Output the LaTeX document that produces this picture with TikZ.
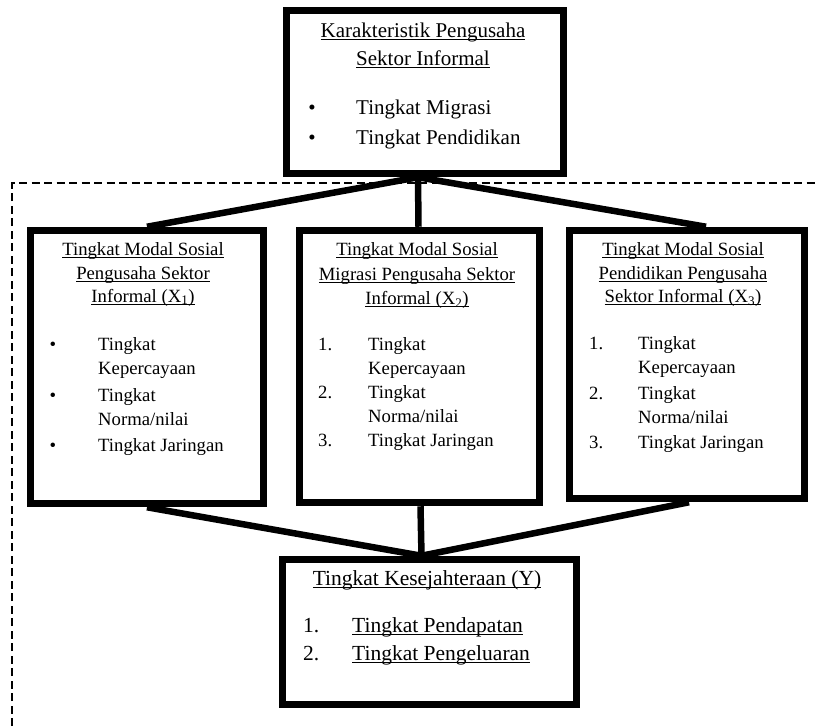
\documentclass[tikz,border=0pt]{standalone}
\usepackage{fontspec}
\setmainfont{Liberation Serif}
\usetikzlibrary{backgrounds}
\newcommand\ulx[1]{\setbox0\hbox{#1}\rlap{\rule[-0.13em]{\wd0}{0.055em}}\box0}
\begin{document}
\begin{tikzpicture}[x=1pt,y=-1pt,
  box/.style={draw, line width=7.5pt, fill=white, inner sep=0pt},
  conn/.style={line width=6.5pt},
  frame/.style={line width=2pt, dash pattern=on 8pt off 4.5pt},
  ta/.style={font=\fontsize{21}{25}\selectfont, inner sep=0pt},
  tb/.style={font=\fontsize{18.7}{23}\selectfont, inner sep=0pt},
  tc/.style={font=\fontsize{21.5}{25}\selectfont, inner sep=0pt}]
\useasboundingbox (0,0) rectangle (817,726);

% boxes
\node[box, minimum width=277pt, minimum height=163pt] (top) at (425,92) {};
\node[box, minimum width=233pt, minimum height=273pt] (x1) at (147,367) {};
\node[box, minimum width=240pt, minimum height=272pt] (x2) at (419.5,366.5) {};
\node[box, minimum width=235pt, minimum height=268pt] (x3) at (687,364.5) {};
\node[box, minimum width=294pt, minimum height=145pt] (y) at (429.5,632) {};

% dashed frame and connectors behind boxes
\coordinate (fa) at (12,726);
\coordinate (fb) at (12,183);
\coordinate (fc) at (817,183);
\begin{pgfonlayer}{background}
\draw[frame] (fa) -- (fb) -- (fc);
\draw[conn] ([xshift=-7pt]top.south) -- (x1.north);
\draw[conn] ([xshift=-7pt]top.south) -- ([xshift=-1pt]x2.north);
\draw[conn] ([xshift=-7pt]top.south) -- ([xshift=19pt]x3.north);
\draw[conn] (x1.south) -- ([xshift=-8pt]y.north);
\draw[conn] ([xshift=1pt]x2.south) -- ([xshift=-8pt]y.north);
\draw[conn] ([xshift=2pt]x3.south) -- ([xshift=-8pt]y.north);
\end{pgfonlayer}

% top box text
\node[ta, anchor=mid] (t1) at (423,35) {\ulx{Karakteristik Pengusaha}};
\node[ta, anchor=mid] (t2) at (423,63) {\ulx{Sektor Informal}};
\node[ta, anchor=mid] (tb1) at (312,112) {\textbullet};
\node[ta, anchor=mid] (tb2) at (312,142) {\textbullet};
\node[ta, anchor=mid west] (ti1) at (356,112) {Tingkat Migrasi};
\node[ta, anchor=mid west] (ti2) at (356,142) {Tingkat Pendidikan};

% left box text
\node[tb, anchor=mid] (a1) at (143,253) {\ulx{Tingkat Modal Sosial}};
\node[tb, anchor=mid] (a2) at (143,277) {\ulx{Pengusaha Sektor}};
\node[tb, anchor=mid] (a3) at (143,300) {\ulx{Informal (X\textsubscript{1})}};
\node[tb, anchor=mid] (ab1) at (53,348) {\textbullet};
\node[tb, anchor=mid] (ab2) at (53,399) {\textbullet};
\node[tb, anchor=mid] (ab3) at (53,449) {\textbullet};
\node[tb, anchor=mid west] (ai1) at (98,348) {Tingkat};
\node[tb, anchor=mid west] (ai2) at (98,372) {Kepercayaan};
\node[tb, anchor=mid west] (ai3) at (98,399) {Tingkat};
\node[tb, anchor=mid west] (ai4) at (98,423) {Norma/nilai};
\node[tb, anchor=mid west] (ai5) at (98,449) {Tingkat Jaringan};

% middle box text
\node[tb, anchor=mid] (b1) at (417,253) {\ulx{Tingkat Modal Sosial}};
\node[tb, anchor=mid] (b2) at (417,278) {\ulx{Migrasi Pengusaha Sektor}};
\node[tb, anchor=mid] (b3) at (417,302) {\ulx{Informal (X\textsubscript{2})}};
\node[tb, anchor=mid west] (bn1) at (318,348) {1.};
\node[tb, anchor=mid west] (bn2) at (318,396) {2.};
\node[tb, anchor=mid west] (bn3) at (318,444) {3.};
\node[tb, anchor=mid west] (bi1) at (368,348) {Tingkat};
\node[tb, anchor=mid west] (bi2) at (368,372) {Kepercayaan};
\node[tb, anchor=mid west] (bi3) at (368,396) {Tingkat};
\node[tb, anchor=mid west] (bi4) at (368,420) {Norma/nilai};
\node[tb, anchor=mid west] (bi5) at (368,444) {Tingkat Jaringan};

% right box text
\node[tb, anchor=mid] (c1) at (683,253) {\ulx{Tingkat Modal Sosial}};
\node[tb, anchor=mid] (c2) at (683,277) {\ulx{Pendidikan Pengusaha}};
\node[tb, anchor=mid] (c3) at (683,300) {\ulx{Sektor Informal (X\textsubscript{3})}};
\node[tb, anchor=mid west] (cn1) at (589,347) {1.};
\node[tb, anchor=mid west] (cn2) at (589,397) {2.};
\node[tb, anchor=mid west] (cn3) at (589,446) {3.};
\node[tb, anchor=mid west] (ci1) at (638,347) {Tingkat};
\node[tb, anchor=mid west] (ci2) at (638,371) {Kepercayaan};
\node[tb, anchor=mid west] (ci3) at (638,397) {Tingkat};
\node[tb, anchor=mid west] (ci4) at (638,421) {Norma/nilai};
\node[tb, anchor=mid west] (ci5) at (638,446) {Tingkat Jaringan};

% bottom box text
\node[tc, anchor=mid] (y1) at (427,583) {\ulx{Tingkat Kesejahteraan (Y)}};
\node[tc, anchor=mid west] (yn1) at (303,630) {1.};
\node[tc, anchor=mid west] (yn2) at (303,658) {2.};
\node[tc, anchor=mid west] (yi1) at (352,630) {\ulx{Tingkat Pendapatan}};
\node[tc, anchor=mid west] (yi2) at (352,658) {\ulx{Tingkat Pengeluaran}};
\end{tikzpicture}
\end{document}
